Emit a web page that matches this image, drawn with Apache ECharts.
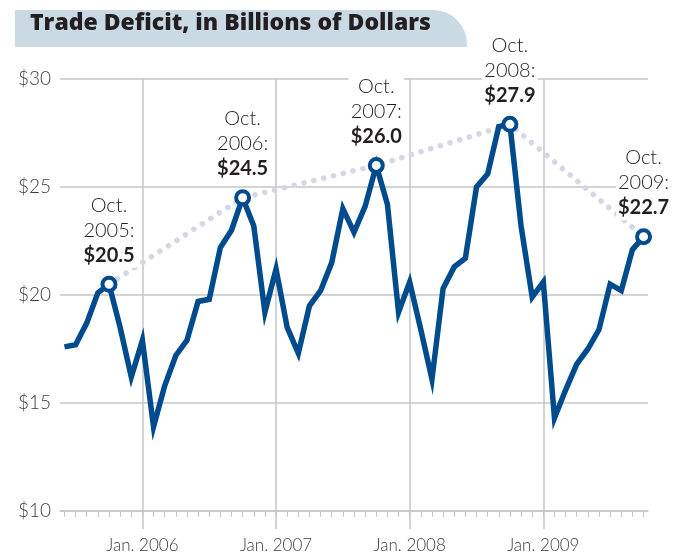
<!DOCTYPE html>
<html>
<head>
<meta charset="utf-8">
<script src="https://cdn.jsdelivr.net/npm/echarts@6/dist/echarts.min.js"></script>
<style>html,body{margin:0;padding:0;background:#fff;}#chart{width:675px;height:560px;}</style>
</head>
<body>
<div id="chart"></div>
<script>
// Monthly categories, Jun 2005 – Oct 2009
const months = [
  'Jun. 2005','Jul. 2005','Aug. 2005','Sep. 2005','Oct. 2005','Nov. 2005','Dec. 2005',
  'Jan. 2006','Feb. 2006','Mar. 2006','Apr. 2006','May 2006','Jun. 2006','Jul. 2006','Aug. 2006','Sep. 2006','Oct. 2006','Nov. 2006','Dec. 2006',
  'Jan. 2007','Feb. 2007','Mar. 2007','Apr. 2007','May 2007','Jun. 2007','Jul. 2007','Aug. 2007','Sep. 2007','Oct. 2007','Nov. 2007','Dec. 2007',
  'Jan. 2008','Feb. 2008','Mar. 2008','Apr. 2008','May 2008','Jun. 2008','Jul. 2008','Aug. 2008','Sep. 2008','Oct. 2008','Nov. 2008','Dec. 2008',
  'Jan. 2009','Feb. 2009','Mar. 2009','Apr. 2009','May 2009','Jun. 2009','Jul. 2009','Aug. 2009','Sep. 2009','Oct. 2009'
];
// Trade deficit, billions of dollars
const deficit = [
  17.6, 17.7, 18.7, 20.1, 20.5, 18.5, 16.2,
  17.9, 13.9, 15.8, 17.2, 17.9, 19.7, 19.8, 22.2, 23.0, 24.5, 23.2, 19.2,
  21.2, 18.5, 17.3, 19.5, 20.2, 21.5, 24.0, 22.9, 24.1, 26.0, 24.2, 19.2,
  20.6, 18.4, 16.1, 20.3, 21.3, 21.7, 25.0, 25.6, 27.8, 27.9, 23.2, 19.9,
  20.6, 14.3, 15.6, 16.8, 17.5, 18.4, 20.5, 20.2, 22.1, 22.7
];
// Highlighted months
const highlightMonths = ['Oct. 2005','Oct. 2006','Oct. 2007','Oct. 2008','Oct. 2009'];
// X tick labels
const tickLabels = ['Jan. 2006','Jan. 2007','Jan. 2008','Jan. 2009'];
// Y ticks
const yTicks = [10, 15, 20, 25, 30];

const FONT = 'Lato, "Open Sans", sans-serif';
const BLUE = '#004b8d';
const GRID = '#c6c6c9';

const monthIdx = months.map((m, i) => i);
const yearIdx = tickLabels.map(l => months.indexOf(l));
const lineData = deficit.map((v, i) => [i, v]);
const hiData = highlightMonths.map(m => { const i = months.indexOf(m); return [i, deficit[i]]; });

const chart = echarts.init(document.getElementById('chart'), null, {renderer: 'canvas'});
chart.setOption({
  animation: false,
  backgroundColor: '#fff',
  grid: {left: 60, right: 27, top: 79, bottom: 49},
  graphic: [
    {type: 'rect', left: 15, top: 10, shape: {width: 452, height: 37, r: [0, 34, 0, 0]}, style: {fill: '#c9dae4'}, z: 0},
    {type: 'text', left: 30, top: 12, style: {text: 'Trade Deficit, in Billions of Dollars', font: '800 23px "Open Sans", sans-serif', fill: '#231f20'}, z: 1}
  ],
  xAxis: [
    {
      type: 'value', min: -0.4, max: months.length - 0.6,
      axisLine: {show: true, lineStyle: {color: GRID, width: 1.5}},
      axisTick: {show: true, customValues: monthIdx, length: 6, lineStyle: {color: GRID, width: 1}},
      axisLabel: {show: true, customValues: yearIdx, formatter: v => months[Math.round(v)], color: '#3d3d3f', fontFamily: FONT, fontWeight: 300, fontSize: 17, margin: 26},
      splitLine: {show: false}
    },
    {
      type: 'value', min: -0.4, max: months.length - 0.6, position: 'bottom',
      axisLine: {show: false},
      axisTick: {show: true, customValues: yearIdx, length: 18, lineStyle: {color: GRID, width: 1.5}},
      axisLabel: {show: false},
      splitLine: {show: true, lineStyle: {color: GRID, width: 1.5}}
    }
  ],
  yAxis: {
    type: 'value', min: yTicks[0], max: yTicks[yTicks.length - 1], interval: 5,
    axisLine: {show: false}, axisTick: {show: false},
    axisLabel: {formatter: v => '$' + v, color: '#3d3d3f', fontFamily: FONT, fontWeight: 300, fontSize: 19, margin: 9},
    splitLine: {show: true, lineStyle: {color: GRID, width: 1.5}}
  },
  series: [
    {
      type: 'line', data: hiData, xAxisIndex: 0, symbol: 'none', z: 1, silent: true,
      lineStyle: {color: '#d4d7e4', width: 5.5, type: [0.1, 10], cap: 'round'}
    },
    {
      type: 'line', data: lineData, xAxisIndex: 0, symbol: 'none', z: 2, silent: true,
      lineStyle: {color: BLUE, width: 5.5, join: 'miter', miterLimit: 10}
    },
    {
      type: 'scatter', data: hiData, xAxisIndex: 0, z: 3, silent: true,
      symbol: 'circle', symbolSize: 13,
      itemStyle: {color: '#fff', borderColor: BLUE, borderWidth: 4, opacity: 1},
      label: {
        show: true, position: 'top', distance: 8,
        backgroundColor: '#fff', padding: [0, 2],
        formatter: p => {
          const parts = months[p.data[0]].split(' ');
          return '{a|' + parts[0] + '}\n{a|' + parts[1] + ':}\n{b|$' + p.data[1].toFixed(1) + '}';
        },
        rich: {
          a: {fontFamily: FONT, fontWeight: 300, fontSize: 20, lineHeight: 25, color: '#231f20', align: 'center'},
          b: {fontFamily: FONT, fontWeight: 'bold', fontSize: 20, lineHeight: 25, color: '#231f20', align: 'center'}
        }
      }
    }
  ]
});
</script>
</body>
</html>
